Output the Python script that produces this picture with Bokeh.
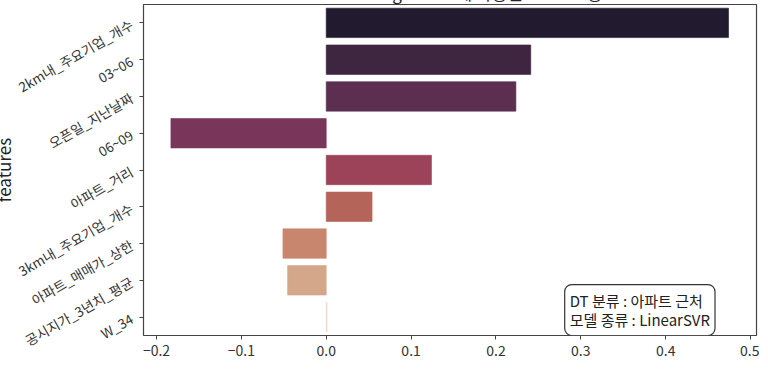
import math
from bokeh.plotting import figure
from bokeh.models import FactorRange, Range1d, Label, FixedTicker, ColumnDataSource, CustomJSTickFormatter
from bokeh.embed import file_html
from bokeh.resources import INLINE

FONT = "Noto Sans CJK KR"

features = ["2km내_주요기업_개수", "03~06", "오픈일_지난날짜", "06~09", "아파트_거리",
            "3km내_주요기업_개수", "아파트_매매가_상한", "공시지가_3년치_평균", "W_34"]
importance = [0.474, 0.241, 0.2235, -0.183, 0.124, 0.054, -0.051, -0.0455, 0.001]
colors = ["#221b30", "#3e2540", "#5c2f50", "#79365a", "#9c4259",
          "#b5645a", "#c7866d", "#d4a68a", "#f2d6c2"]
x_ticks = [-0.2, -0.1, 0.0, 0.1, 0.2, 0.3, 0.4, 0.5]
title_text = "Machine learning model에 사용된 feature 중요도"
note_text = "DT 분류 : 아파트 근처\n모델 종류 : LinearSVR"

src = ColumnDataSource(dict(feature=features, value=importance, color=colors))

p = figure(width=771, height=381, output_backend="svg", toolbar_location=None,
           y_range=FactorRange(factors=features[::-1]),
           x_range=Range1d(-0.2153, 0.507),
           title=title_text)
p.margin = (-23, 0, 0, -12)

p.hbar(y="feature", right="value", left=0, height=0.8, fill_color="color",
       line_color="color", line_alpha=0.6, source=src)

p.title.text_font = FONT
p.title.text_font_size = "17px"
p.title.text_font_style = "normal"
p.title.align = "center"
p.title.text_color = "#222222"
p.title.standoff = 0

p.xgrid.visible = False
p.ygrid.visible = False
p.outline_line_color = "#444444"
p.outline_line_width = 1.2
p.min_border_top = 0
p.min_border_right = 3
p.min_border_bottom = 0

p.xaxis.ticker = FixedTicker(ticks=x_ticks)
p.xaxis.formatter = CustomJSTickFormatter(code="return tick.toFixed(1).replace('-', '\u2212');")
for ax in (p.xaxis[0], p.yaxis[0]):
    ax.axis_line_color = None
    ax.major_tick_line_color = "#444444"
    ax.major_tick_line_width = 1
    ax.major_tick_in = 0
    ax.major_tick_out = 4
    ax.minor_tick_line_color = None
    ax.major_label_text_font = FONT
    ax.major_label_text_font_size = "14px"
    ax.major_label_text_color = "#333333"
p.yaxis.major_label_text_font_size = "13.5px"
p.yaxis.major_label_standoff = 8

p.yaxis.major_label_orientation = math.pi / 6
p.yaxis.axis_label = "features"
p.yaxis.axis_label_text_font = FONT
p.yaxis.axis_label_text_font_size = "17px"
p.yaxis.axis_label_text_font_style = "normal"
p.yaxis.axis_label_text_color = "#222222"
p.yaxis.axis_label_standoff = -10

note = Label(x=0.281, y=0.0, text=note_text, text_font=FONT, text_font_size="15px",
             text_color="#222222", text_align="left", text_baseline="bottom",
             text_line_height=0.95,
             border_line_color="#333333", border_line_width=1.2,
             background_fill_color="white", background_fill_alpha=0.9,
             padding=5, border_radius=7)
p.add_layout(note)

open("out.html", "w").write(file_html(p, INLINE))
